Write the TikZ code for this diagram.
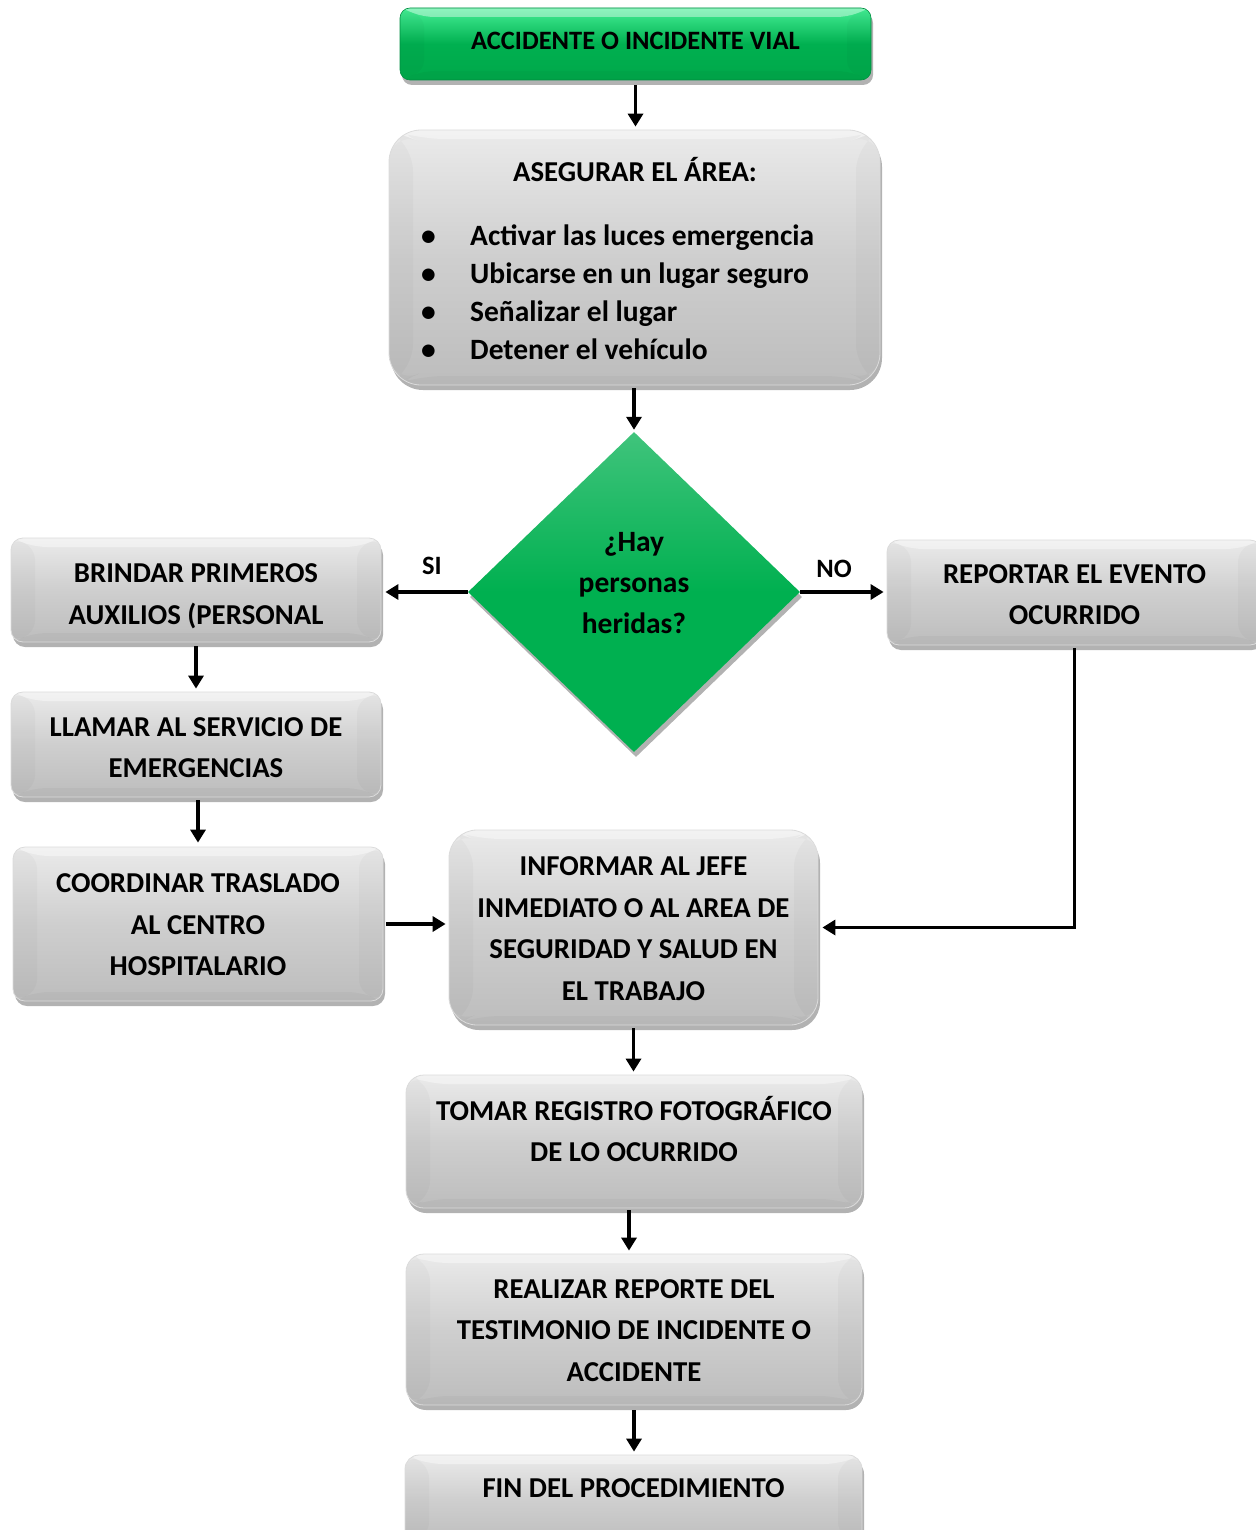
\documentclass[tikz,border=0pt]{standalone}
\usepackage{fontspec}
\setmainfont{Carlito}
\usetikzlibrary{shapes.geometric,shadows,arrows.meta}
\definecolor{gr}{HTML}{00B050}
\definecolor{grl}{HTML}{45EE95}
\definecolor{grd}{HTML}{00A84A}
\newcommand{\shiftup}[2]{\raisebox{#1}[\height][\depth]{\begin{tabular}{@{}c@{}}#2\end{tabular}}}
\begin{document}
\begin{tikzpicture}[x=1pt,y=-1pt,
  shad/.style={drop shadow={shadow xshift=2pt, shadow yshift=-5pt, opacity=0.3, fill=black}},
  bevel/.style={path picture={
      \coordinate (bNW) at (path picture bounding box.north west);
      \coordinate (bNE) at (path picture bounding box.north east);
      \coordinate (bSW) at (path picture bounding box.south west);
      \coordinate (bSE) at (path picture bounding box.south east);
      \fill[white, opacity=0.4] (bNW) -- (bNE) -- ([xshift=-24pt,yshift=-9pt]bNE) -- ([xshift=24pt,yshift=-9pt]bNW) -- cycle;
      \fill[black, opacity=0.025] (bNW) -- ([xshift=24pt,yshift=-9pt]bNW) -- ([xshift=24pt,yshift=9pt]bSW) -- (bSW) -- cycle;
      \fill[black, opacity=0.025] (bNE) -- ([xshift=-24pt,yshift=-9pt]bNE) -- ([xshift=-24pt,yshift=9pt]bSE) -- (bSE) -- cycle;
      \fill[black, opacity=0.03] (bSW) -- ([xshift=24pt,yshift=9pt]bSW) -- ([xshift=-24pt,yshift=9pt]bSE) -- (bSE) -- cycle;
    }},
  box/.style={rectangle, rounded corners=12pt, top color=black!8, bottom color=black!26, middle color=black!19,
    draw=black!14, line width=0.8pt, align=center, inner sep=0pt, shad, bevel,
    font=\fontsize{28.8}{41.5}\selectfont\bfseries},
  gbox/.style={rectangle, rounded corners=10pt, top color=grl, bottom color=grd, middle color=gr,
    draw=gr!80!black, line width=0.6pt, align=center, inner sep=0pt, shad, bevel,
    font=\fontsize{26.5}{30}\selectfont\bfseries},
  txt/.style={align=center, inner sep=0pt, font=\fontsize{28.8}{41.5}\selectfont\bfseries},
  arr/.style={line width=3.8pt, -{Triangle[length=13pt,width=15pt]}},
]
\useasboundingbox (0,0) rectangle (1255,1530);

% start
\node[gbox, minimum width=471pt, minimum height=72pt] (start) at (635.5,44) {\shiftup{0pt}{ACCIDENTE O INCIDENTE VIAL}};

% secure area
\node[box, rounded corners=32pt, minimum width=491pt, minimum height=255pt] (area) at (634.5,257.5) {};
\node[txt, font=\fontsize{28.8}{38}\selectfont\bfseries] (areat) at (635,170) {ASEGURAR EL ÁREA:};
\node[txt, align=left, anchor=west, font=\fontsize{29.5}{38}\selectfont\bfseries] (areal) at (421,292)
  {\makebox[49pt][l]{•}Activar las luces emergencia\\
   \makebox[49pt][l]{•}Ubicarse en un lugar seguro\\
   \makebox[49pt][l]{•}Señalizar el lugar\\
   \makebox[49pt][l]{•}Detener el vehículo};

% decision
\node[diamond, aspect=1.04, minimum width=332pt, minimum height=320pt, inner sep=0pt,
  top color=gr!75!white, bottom color=gr, middle color=gr, shad] (dia) at (634,592) {};
\node[txt, font=\fontsize{29.5}{41}\selectfont\bfseries] (diat) at (634,583) {¿Hay\\personas\\heridas?};

% left column
\node[box, minimum width=370pt, minimum height=104pt] (brin) at (196,590) {\shiftup{-5pt}{BRINDAR PRIMEROS\\AUXILIOS (PERSONAL}};
\node[box, minimum width=370pt, minimum height=105pt] (llam) at (196,744.5) {\shiftup{-4pt}{LLAMAR AL SERVICIO DE\\EMERGENCIAS}};
\node[box, minimum width=370pt, minimum height=154pt] (coor) at (198,924) {\shiftup{-2pt}{COORDINAR TRASLADO\\AL CENTRO\\HOSPITALARIO}};

% right
\node[box, minimum width=375pt, minimum height=105pt] (rep) at (1074.5,592.5) {\shiftup{-3pt}{REPORTAR EL EVENTO\\OCURRIDO}};

% center column
\node[box, rounded corners=28pt, minimum width=369pt, minimum height=195pt] (inf) at (633.5,927.5)
  {\shiftup{-2pt}{INFORMAR AL JEFE\\INMEDIATO O AL AREA DE\\SEGURIDAD Y SALUD EN\\EL TRABAJO}};
\node[box, rounded corners=18pt, minimum width=456pt, minimum height=133pt] (tom) at (634,1141.5)
  {\shiftup{9pt}{TOMAR REGISTRO FOTOGRÁFICO\\DE LO OCURRIDO}};
\node[box, rounded corners=18pt, minimum width=456pt, minimum height=151pt] (real) at (634,1329.5)
  {\shiftup{-2pt}{REALIZAR REPORTE DEL\\TESTIMONIO DE INCIDENTE O\\ACCIDENTE}};
\node[box, rounded corners=14pt, minimum width=457pt, minimum height=90pt] (fin) at (633.5,1500)
  {\shiftup{11pt}{FIN DEL PROCEDIMIENTO}};

% labels
\node[txt, font=\fontsize{26.5}{30}\selectfont\bfseries] (si) at (432,566) {SI};
\node[txt, font=\fontsize{26.5}{30}\selectfont\bfseries] (no) at (834,569) {NO};

% connectors
\draw[arr, shorten <=5pt, shorten >=3pt] (start.south) -- (start.south |- area.north);
\draw[arr, shorten <=3pt, shorten >=2pt] (area.south -| dia.north) -- (dia.north);
\draw[arr, shorten >=4pt] (dia.west) -- (dia.west -| brin.east);
\draw[arr, shorten >=3pt] (dia.east) -- (dia.east -| rep.west);
\draw[arr, shorten <=4pt, shorten >=3pt] (brin.south) -- (brin.south |- llam.north);
\draw[arr, shorten <=3pt, shorten >=4pt] ([xshift=2pt]llam.south) -- ([xshift=2pt]llam.south |- coor.north);
\draw[arr, shorten <=3pt, shorten >=3pt] (coor.east) -- (coor.east -| inf.west);
\draw[arr, shorten <=3pt, shorten >=4pt] (rep.south) |- (inf.east);
\draw[arr, shorten <=3pt, shorten >=3pt] (inf.south) -- (inf.south |- tom.north);
\draw[arr, shorten <=2pt, shorten >=3pt] ([xshift=-5pt]tom.south) -- ([xshift=-5pt]tom.south |- real.north);
\draw[arr, shorten <=5pt, shorten >=3pt] (real.south) -- (real.south |- fin.north);
\end{tikzpicture}
\end{document}
